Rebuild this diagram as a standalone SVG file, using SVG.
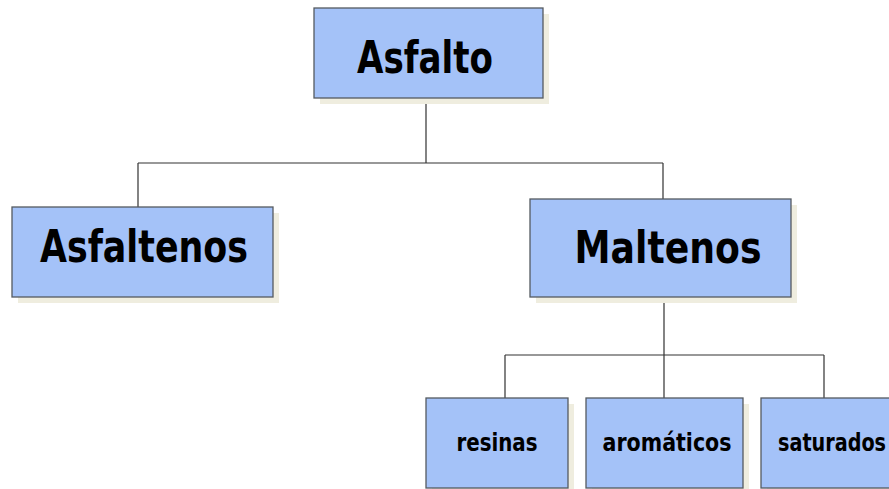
<svg xmlns="http://www.w3.org/2000/svg" width="889" height="489" viewBox="0 0 889 489">
<style>
.box{fill:#a4c2f8;stroke:#555a60;stroke-width:1.3}
.sh{fill:#efeddf}
.t{font-family:"DejaVu Sans","Liberation Sans",sans-serif;font-weight:bold;fill:#000;text-anchor:middle}
.c{fill:none;stroke:#333;stroke-width:1.2}
</style>
<rect width="889" height="489" fill="#fff"/>
<g id="connectors">
<path class="c" d="M426 98V163M138 163H663M138 163V207M663 163V199M664 297V355M505 355H824M505 355V398M664 355V398M824 355V398"/>
</g>
<g id="asfalto">
<rect class="sh" x="320" y="14" width="229" height="90"/>
<rect class="box" x="314" y="8" width="229" height="90"/>
<text class="t" x="425" y="73" font-size="45" textLength="136" lengthAdjust="spacingAndGlyphs">Asfalto</text>
</g>
<g id="asfaltenos">
<rect class="sh" x="18" y="213" width="261" height="90"/>
<rect class="box" x="12" y="207" width="261" height="90"/>
<text class="t" x="144" y="262" font-size="45" textLength="208" lengthAdjust="spacingAndGlyphs">Asfaltenos</text>
</g>
<g id="maltenos">
<rect class="sh" x="536" y="205" width="261" height="98"/>
<rect class="box" x="530" y="199" width="261" height="98"/>
<text class="t" x="668" y="263" font-size="45" textLength="187" lengthAdjust="spacingAndGlyphs">Maltenos</text>
</g>
<g id="resinas">
<rect class="sh" x="432" y="404" width="142" height="90"/>
<rect class="box" x="426" y="398" width="142" height="90"/>
<text class="t" x="497" y="451" font-size="24" textLength="81" lengthAdjust="spacingAndGlyphs">resinas</text>
</g>
<g id="aromaticos">
<rect class="sh" x="592" y="404" width="157" height="90"/>
<rect class="box" x="586" y="398" width="157" height="90"/>
<text class="t" x="667" y="451" font-size="24" textLength="129" lengthAdjust="spacingAndGlyphs">aromáticos</text>
</g>
<g id="saturados">
<rect class="sh" x="767" y="404" width="157" height="90"/>
<rect class="box" x="761" y="398" width="157" height="90"/>
<text class="t" transform="translate(832 451) scale(1 1.2)" x="0" y="0" font-size="20" textLength="108" lengthAdjust="spacingAndGlyphs">saturados</text>
</g>
</svg>
